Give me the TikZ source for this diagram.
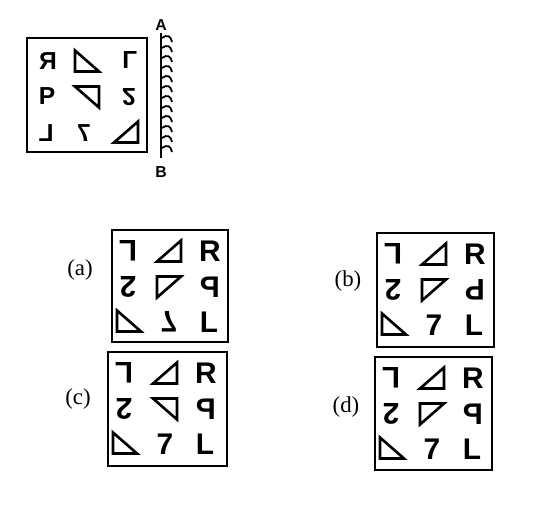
\documentclass[tikz,border=0pt]{standalone}
\usepackage{fontspec}
\setmainfont{Liberation Serif}
\newfontfamily\glyphsans{Liberation Sans}
\usepackage{graphicx}
\usepackage{tikz}
\usetikzlibrary{positioning}
\newcommand\gl[3]{\scalebox{#1}[#2]{#3}}
\newcommand\trig[4]{\draw[tri, shift={(#1,#2)}, xscale=#3, yscale=#4] (-12,-10.5) -- (-12,10.5) -- (12,10.5) -- cycle;}

\begin{document}
\begin{tikzpicture}[x=0.02cm, y=-0.02cm,
  box/.style={draw, line width=1.6pt},
  tri/.style={line width=1.5pt, line join=miter},
  qglyph/.style={font=\glyphsans\bfseries\fontsize{14}{14}\selectfont, inner sep=0pt},
  oglyph/.style={font=\glyphsans\bfseries\fontsize{17}{17}\selectfont, inner sep=0pt},
  lab/.style={font=\fontsize{13}{13}\selectfont},
  ends/.style={font=\glyphsans\bfseries\fontsize{9}{9}\selectfont, inner sep=1pt},
  hatch/.style={line width=1pt}]
  \useasboundingbox (0,0) rectangle (540,507);
  \draw[box] (27,38) rectangle (147,152);
  \node[qglyph] (q11) at (48,61) {\gl{-1}{1}{R}};
  \trig{87}{61}{1}{1}
  \node[qglyph] (q13) at (130,60) {\gl{1}{-1}{L}};
  \node[qglyph] (q21) at (47,96) {P};
  \trig{87}{97}{-1}{-1}
  \node[qglyph] (q23) at (129,97) {\gl{1}{-1}{2}};
  \node[qglyph] (q31) at (46,133) {\gl{-1}{1}{L}};
  \node[qglyph] (q32) at (84,133) {\gl{-1}{1}{7}};
  \trig{126}{132}{-1}{1}
  \node[ends] (A) at (161,25) {A};
  \node[ends] (B) at (161,172) {B};
  \draw[line width=1.2pt, shorten >=3.5pt] (A.south) -- (B.north);
  \foreach \y in {38,48,...,150}{
     \draw[hatch] (162,\y) .. controls (167,\y-4) and (171,\y-2) .. (172,\y+4);}
  \foreach \o/\bx/\by/\bw/\bh/\lx/\ly/\tx/\pg/\sg in {
     a/112/230/116/112/80/270/1/{\gl{-1}{1}{P}}/{\gl{1}{-1}{7}},
     b/377/233/117/114/348/281/1/{\gl{-1}{-1}{P}}/{7},
     c/108/352/119/114/78/399/-1/{\gl{-1}{1}{P}}/{7},
     d/375/357/117/113/346/407/1/{\gl{-1}{1}{P}}/{7}}{
    \draw[box] (\bx,\by) rectangle ++(\bw,\bh);
    \node[lab] (lab-\o) at (\lx,\ly) {(\o)};
    \node[oglyph] (\o11) at (\bx+16,\by+21) {\gl{-1}{-1}{L}};
    \trig{\bx+57}{\by+21}{-1}{1}
    \node[oglyph] (\o13) at (\bx+98,\by+21) {R};
    \node[oglyph] (\o21) at (\bx+16,\by+57) {\gl{-1}{-1}{2}};
    \trig{\bx+57}{\by+57}{\tx}{-1}
    \node[oglyph] (\o23) at (\bx+98,\by+57) {\pg};
    \trig{\bx+17}{\by+91}{1}{1}
    \node[oglyph] (\o32) at (\bx+57,\by+92) {\sg};
    \node[oglyph] (\o33) at (\bx+97,\by+92) {L};
  }
\end{tikzpicture}
\end{document}
